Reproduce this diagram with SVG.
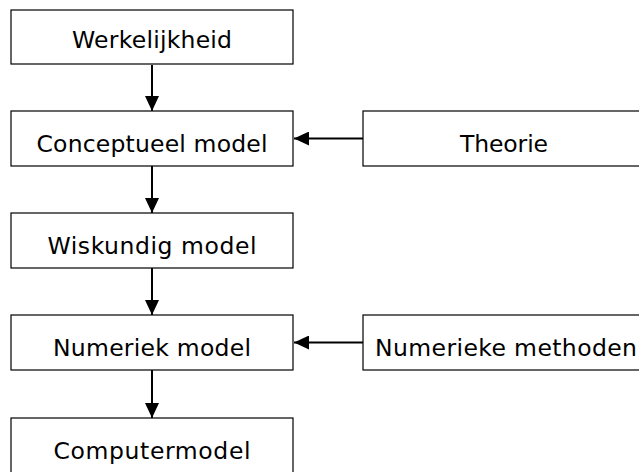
<svg xmlns="http://www.w3.org/2000/svg" width="639" height="472" viewBox="0 0 639 472">
<style>
.box{fill:#fff;stroke:#000;stroke-width:1.2}
.lbl{font-family:"DejaVu Sans","Liberation Sans",sans-serif;font-size:23.5px;fill:#000;text-anchor:middle}
.con{stroke:#000;stroke-width:2;fill:none}
</style>
<defs>
<marker id="ah" markerUnits="userSpaceOnUse" markerWidth="16" markerHeight="14" refX="15" refY="7" orient="auto">
<path d="M0,0 L15,7 L0,14 Z" fill="#000"/>
</marker>
</defs>
<rect width="639" height="472" fill="#fff"/>
<g id="connectors">
<line class="con" x1="152" y1="65" x2="152" y2="111" marker-end="url(#ah)"/>
<line class="con" x1="152" y1="166" x2="152" y2="213" marker-end="url(#ah)"/>
<line class="con" x1="152" y1="268" x2="152" y2="315" marker-end="url(#ah)"/>
<line class="con" x1="152" y1="370" x2="152" y2="418" marker-end="url(#ah)"/>
<line class="con" x1="363" y1="138.5" x2="294" y2="138.5" marker-end="url(#ah)"/>
<line class="con" x1="363" y1="342.5" x2="294" y2="342.5" marker-end="url(#ah)"/>
</g>
<g id="werkelijkheid">
<rect class="box" x="11" y="10" width="282" height="54"/>
<text class="lbl" x="152" y="48" textLength="160" lengthAdjust="spacing">Werkelijkheid</text>
</g>
<g id="conceptueel">
<rect class="box" x="11" y="111" width="282" height="55"/>
<text class="lbl" x="152" y="152" textLength="231" lengthAdjust="spacing">Conceptueel model</text>
</g>
<g id="theorie">
<rect class="box" x="363" y="111" width="282" height="55"/>
<text class="lbl" x="504" y="152" textLength="88" lengthAdjust="spacing">Theorie</text>
</g>
<g id="wiskundig">
<rect class="box" x="11" y="213" width="282" height="55"/>
<text class="lbl" x="152" y="254" textLength="209" lengthAdjust="spacing">Wiskundig model</text>
</g>
<g id="numeriek">
<rect class="box" x="11" y="315" width="282" height="55"/>
<text class="lbl" x="152" y="356" textLength="198" lengthAdjust="spacing">Numeriek model</text>
</g>
<g id="methoden">
<rect class="box" x="363" y="315" width="282" height="55"/>
<text class="lbl" x="506" y="356" textLength="262" lengthAdjust="spacing">Numerieke methoden</text>
</g>
<g id="computermodel">
<rect class="box" x="11" y="418" width="282" height="60"/>
<text class="lbl" x="152" y="459" textLength="197" lengthAdjust="spacing">Computermodel</text>
</g>
</svg>
